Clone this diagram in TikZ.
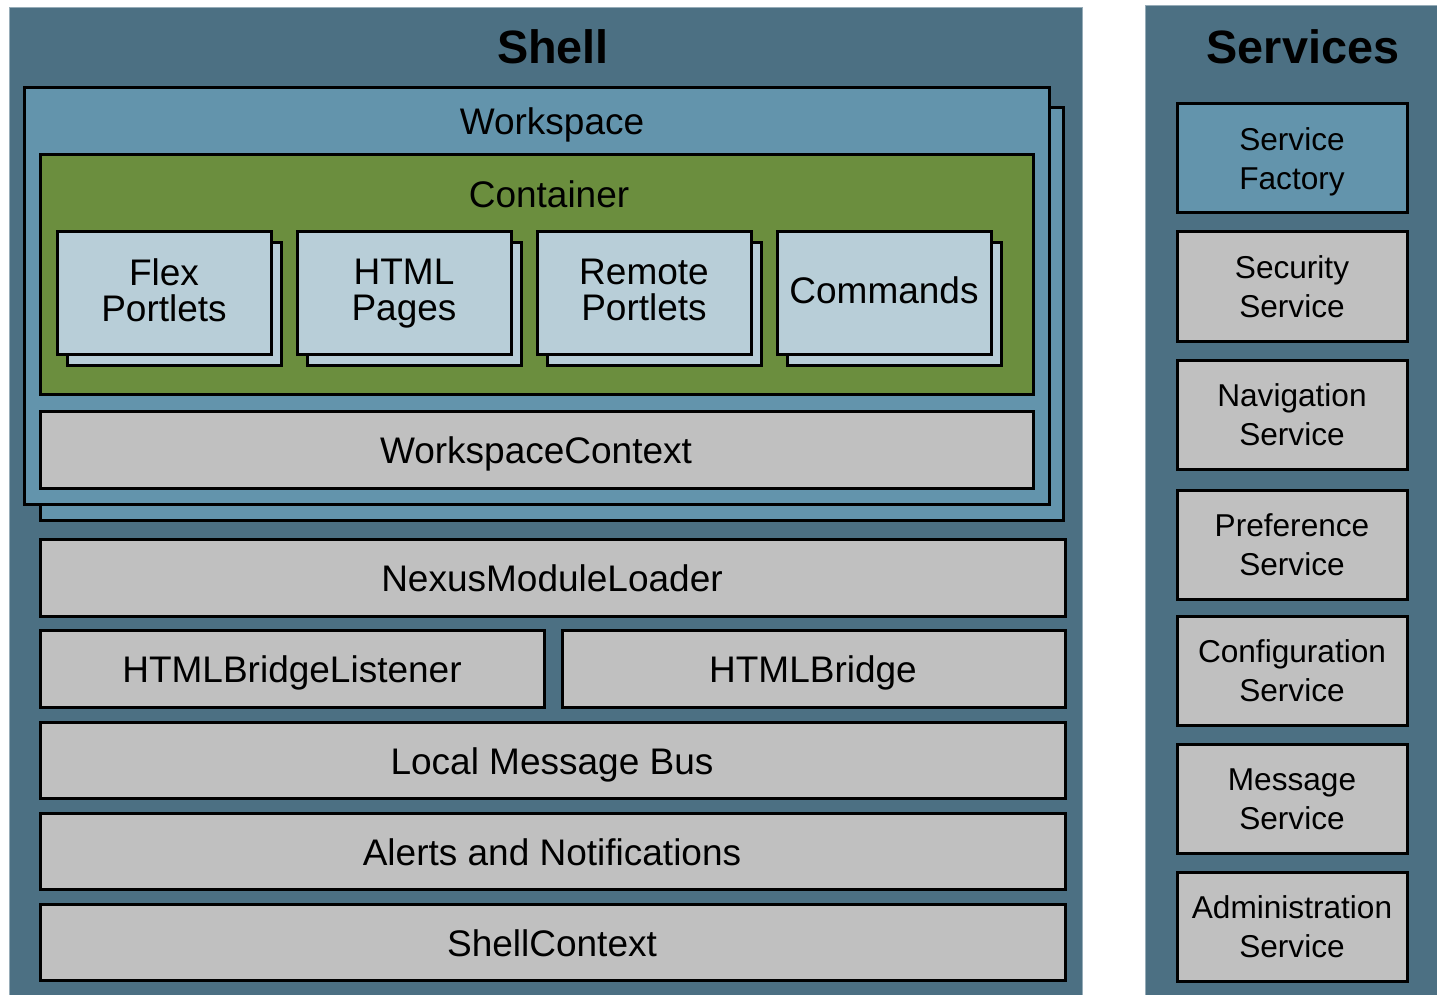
\documentclass[tikz,border=0pt]{standalone}
\usepackage{fontspec}
\setmainfont{Liberation Sans}
\usepackage{tikz}

\definecolor{panelblue}{RGB}{76,112,131}
\definecolor{paneledge}{RGB}{150,172,184}
\definecolor{wsblue}{RGB}{99,148,172}
\definecolor{contgreen}{RGB}{107,142,62}
\definecolor{portletblue}{RGB}{184,206,216}
\definecolor{boxgray}{RGB}{192,192,192}

\tikzset{
	panel/.style={fill=panelblue, draw=paneledge, line width=0.5pt},
	frame/.style={draw=black, line width=1.5pt},
	layer/.style={frame, fill=boxgray},
	title/.style={font=\fontsize{23.4}{26}\selectfont\bfseries, text depth=0pt},
	label/.style={font=\fontsize{18.5}{18}\selectfont, align=center, inner sep=0pt, text depth=0pt},
	svclabel/.style={font=\fontsize{15.8}{19.5}\selectfont, align=center, inner sep=0pt, text depth=0pt}
}

\begin{document}
\begin{tikzpicture}[x=0.5pt, y=-0.5pt]
	\useasboundingbox (0,0) rectangle (1437,995);
	% panels
	\fill[panel] (9,8) rectangle (1082,1000);
	\fill[panel] (1145,6) rectangle (1440,1000);
	\node[title] (shell) at (553,47) {Shell};
	\node[title] (services) at (1303,47) {Services};

	% workspace with its copy behind
	\draw[frame, fill=wsblue] (40,108) rectangle (1063,520);
	\draw[frame, fill=wsblue] (24,88) rectangle (1049,504);
	\node[label] (workspace) at (552,121) {Workspace};

	% container and portlets
	\draw[frame, fill=contgreen] (40,155) rectangle (1033,394);
	\node[label] (container) at (549,194) {Container};
	\foreach \x/\name/\txt in {57/flex/{Flex\\Portlets}, 297/html/{HTML\\Pages},
			537/remote/{Remote\\Portlets}, 777/commands/{Commands}} {
		\draw[frame, fill=portletblue] (\x+10,243) rectangle (\x+224,365);
		\draw[frame, fill=portletblue] (\x,232) rectangle (\x+214,354);
		\node[label] (\name) at (\x+107,290) {\txt};
	}
	\draw[layer] (40,411) rectangle (1033,488);
	\node[label] (wscontext) at (536,450) {WorkspaceContext};

	% shell layers
	\draw[layer] (40,539) rectangle (1065,616);
	\node[label] (loader) at (552,578) {NexusModuleLoader};
	\draw[layer] (40,630) rectangle (544,707);
	\node[label] (bridgelistener) at (292,669) {HTMLBridgeListener};
	\draw[layer] (562,630) rectangle (1065,707);
	\node[label] (bridge) at (813,669) {HTMLBridge};
	\draw[layer] (40,722) rectangle (1065,798);
	\node[label] (msgbus) at (552,761) {Local Message Bus};
	\draw[layer] (40,813) rectangle (1065,889);
	\node[label] (alerts) at (552,852) {Alerts and Notifications};
	\draw[layer] (40,904) rectangle (1065,980);
	\node[label] (shellcontext) at (552,943) {ShellContext};

	% services
	\draw[frame, fill=wsblue] (1177,104) rectangle (1407,213);
	\node[svclabel] (factory) at (1292,159) {Service\\Factory};
	\foreach \y/\name/\txt in {232/security/Security, 360/navigation/Navigation,
			490/preference/Preference, 616/configuration/Configuration,
			744/message/Message, 872/administration/Administration} {
		\draw[layer] (1177,\y) rectangle (1407,\y+109);
		\node[svclabel] (\name) at (1292,\y+55) {\txt\\Service};
	}
\end{tikzpicture}
\end{document}
